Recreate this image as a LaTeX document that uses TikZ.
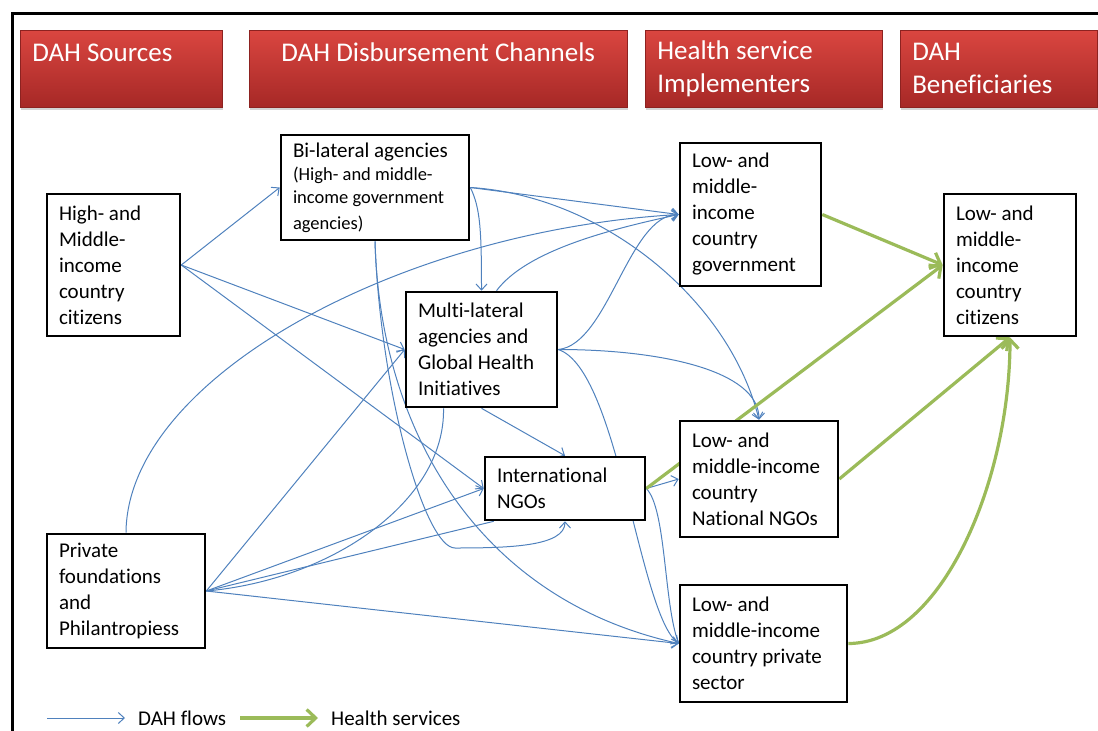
\documentclass[tikz,border=0pt]{standalone}
\usepackage{xcolor}
\usepackage{fontspec}
\setmainfont{Carlito}[Ligatures=NoCommon]
\usepackage{tikz}
\usetikzlibrary{arrows.meta,shadows}

\definecolor{dahblue}{RGB}{79,129,189}
\definecolor{hsgreen}{RGB}{155,187,89}
\definecolor{hdrtop}{RGB}{218,70,64}
\definecolor{hdrbot}{RGB}{166,40,38}

\pgfdeclarelayer{flows}
\pgfsetlayers{flows,main}

\begin{document}
\begin{tikzpicture}[x=1pt, y=-1pt,
	hdr/.style={rectangle, anchor=north west, top color=hdrtop, bottom color=hdrbot,
		draw=hdrbot!85!black, line width=0.6pt, text=white, align=flush left,
		inner xsep=12pt, minimum height=77pt, font=\fontsize{27}{33}\selectfont,
		drop shadow={opacity=0.35, shadow xshift=1pt, shadow yshift=-3pt}},
	box/.style={rectangle, draw=black, line width=2.6pt, fill=white, align=flush left,
		inner xsep=12pt, font=\fontsize{21}{26}\selectfont},
	dah/.style={draw=dahblue, line width=1pt, -{Straight Barb[length=6pt,width=11pt]}},
	dahline/.style={draw=dahblue, line width=1pt},
	hs/.style={draw=hsgreen, line width=3.2pt, -{Straight Barb[length=9pt,width=17pt]}},
	legtext/.style={anchor=west, inner sep=0pt, font=\fontsize{21}{26}\selectfont}]
	\useasboundingbox (0,0) rectangle (1098,731);
	\draw[line width=3pt] (12,731) -- (12,13) -- (1098,13);

	\node[hdr, text width=178pt] (hsrc) at (20,30) {DAH Sources\\\mbox{}};
	\node[hdr, text width=354pt, align=flush center] (hchan) at (249,30) {DAH Disbursement Channels\\\mbox{}};
	\node[hdr, text width=213pt] (himpl) at (645,30) {Health service\\Implementers};
	\node[hdr, text width=173pt] (hbenef) at (900,30) {DAH\\Beneficiaries};

	\node[box, text width=109pt, minimum height=142pt] (src1) at (113.5,265) {High- and\\Middle-\\income\\country\\citizens};
	\node[box, text width=134pt, minimum height=114pt] (src2) at (126,591) {Private\\foundations\\and\\Philantropiess};
	\node[box, text width=164pt, minimum height=105pt] (bilat) at (375,187.5) {Bi-lateral agencies\\\fontsize{18.5}{23}\selectfont(High- and middle-\\income government\\agencies)};
	\node[box, text width=127pt, minimum height=115pt] (multi) at (481.5,349.5) {Multi-lateral\\agencies and\\Global Health\\Initiatives};
	\node[box, text width=136pt, minimum height=63pt] (intngo) at (565,488.5) {International\\NGOs};
	\node[box, text width=117pt, minimum height=143pt] (lmgov) at (750.5,214.5) {Low- and\\middle-\\income\\country\\government};
	\node[box, text width=134pt, minimum height=116pt] (lmngo) at (759,479) {Low- and\\middle-income\\country\\National NGOs};
	\node[box, text width=143pt, minimum height=117pt] (lmpriv) at (763.5,643.5) {Low- and\\middle-income\\country private\\sector};
	\node[box, text width=108pt, minimum height=142pt] (benef) at (1010,265) {Low- and\\middle-\\income\\country\\citizens};

	\coordinate (hookbend) at (455,548);
	\begin{pgfonlayer}{flows}
		\draw[dah] (src1.east) -- (bilat.west);
		\draw[dah] (src1.east) -- (multi.west);
		\draw[dah] (src1.east) -- (intngo.west);
		\draw[dah] (src2.east) -- (multi.west);
		\draw[dah] (src2.east) -- (intngo.west);
		\draw[dahline] (src2.east) -- ([xshift=10pt]intngo.south west);
		\draw[dahline] (src2.east) .. controls +(125,-11) and +(2,93) .. ([xshift=-38pt]multi.south);
		\draw[dah] (src2.north) .. controls +(1,-154) and +(-280,16) .. (lmgov.west);
		\draw[dah] (src2.east) -- (lmpriv.west);
		\draw[dah] (bilat.east) -- (lmgov.west);
		\draw[dah] (bilat.east) .. controls +(131,8) and +(-30,-121) .. (lmngo.north);
		\draw[dah] (bilat.east) .. controls +(10,20) and +(0,-60) .. (multi.north);
		\draw[dah] (bilat.south) .. controls +(5,190) and +(-200,-44) .. (lmpriv.west);
		\draw[dah] (bilat.south) .. controls +(5,150) and +(-30,0) .. (hookbend)
			.. controls +(55,0) and +(0,25) .. (intngo.south);
		\draw[dah] ([xshift=15pt]multi.north) .. controls +(30,-40) and +(-70,15) .. (lmgov.west);
		\draw[dah] (multi.east) .. controls +(50,-5) and +(-50,0) .. (lmgov.west);
		\draw[dah] (multi.east) .. controls +(100,0) and +(0,-50) .. (lmngo.north);
		\draw[dah] (multi.east) .. controls +(60,20) and +(-40,-30) .. (lmpriv.west);
		\draw[dah] (multi.south) -- (intngo.north);
		\draw[dah] (intngo.east) -- (lmngo.west);
		\draw[dah] (intngo.east) .. controls +(20,20) and +(-15,-40) .. (lmpriv.west);

		\draw[hs] (lmgov.east) -- (benef.west);
		\draw[hs] (intngo.east) -- (benef.west);
		\draw[hs] (lmngo.east) -- (benef.south);
		\draw[hs] (lmpriv.east) .. controls +(93,0) and +(0,144) .. (benef.south);
	\end{pgfonlayer}

	\coordinate (lgdah0) at (47,718);
	\coordinate (lgdah1) at (125,718);
	\node[legtext] (lgdah) at (138,718) {DAH flows};
	\coordinate (lghs0) at (240,718);
	\coordinate (lghs1) at (318,718);
	\node[legtext] (lghs) at (331,718) {Health services};
	\draw[dah] (lgdah0) -- (lgdah1);
	\draw[hs] (lghs0) -- (lghs1);
\end{tikzpicture}
\end{document}
